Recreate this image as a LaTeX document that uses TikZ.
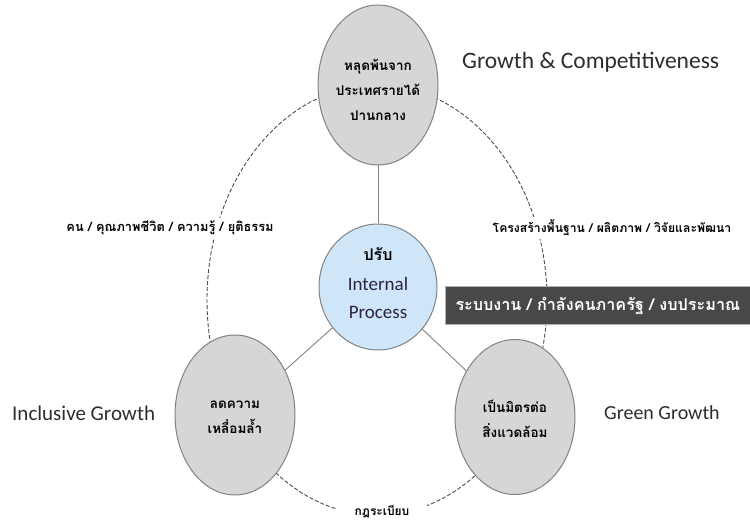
\documentclass[tikz,border=0pt]{standalone}
\usepackage{fontspec}
\setmainfont{Carlito}
\newfontfamily\thai[Script=Thai]{Loma}
\usetikzlibrary{shapes.geometric}
\definecolor{ellgray}{RGB}{214,214,214}
\definecolor{ellblue}{RGB}{207,230,248}
\definecolor{edge}{RGB}{130,130,130}
\definecolor{boxdark}{RGB}{72,72,72}
\definecolor{txt}{RGB}{45,45,45}
\definecolor{midtxt}{RGB}{45,35,65}
\tikzset{
 bubble/.style={ellipse, draw=edge, line width=1pt, fill=ellgray, inner sep=0pt,
   minimum width=120pt, minimum height=160pt},
 bubtext/.style={align=center, inner sep=0pt, font=\thai\bfseries\fontsize{13.5}{25}\selectfont},
 midword/.style={inner sep=0pt, text=midtxt, font=\fontsize{19}{22}\selectfont},
 link/.style={draw=edge, line width=0.9pt},
 ring/.style={draw=black!70, line width=0.9pt, dash pattern=on 4pt off 2pt},
 eng/.style={font=\fontsize{21}{24}\selectfont, text=txt, inner sep=0pt},
 thlabel/.style={font=\thai\bfseries\fontsize{12.8}{14}\selectfont, fill=white, inner sep=3pt},
}
\begin{document}
\begin{tikzpicture}[x=1pt,y=-1pt]
\useasboundingbox (0,0) rectangle (750,529);
\draw[ring] (377,300) ellipse [x radius=170pt, y radius=215pt];

\node[bubble] (top) at (378,85) {};
\node[bubble] (bl) at (235,415) {};
\node[bubble, minimum height=155pt] (br) at (515,417) {};
\node[bubble, fill=ellblue, minimum height=126pt, minimum width=118pt] (mid) at (378,287) {};

\node[bubtext] (toptext) at (378,90) {หลุดพ้นจาก\\ประเทศรายได้\\ปานกลาง};
\node[bubtext] (bltext) at (235,417) {ลดความ\\เหลื่อมล้ำ};
\node[bubtext] (brtext) at (515,419) {เป็นมิตรต่อ\\สิ่งแวดล้อม};
\node[bubtext, font=\thai\bfseries\fontsize{16}{20}\selectfont] (midth) at (378,254) {ปรับ};
\node[midword] (midin) at (378,284) {Internal};
\node[midword] (midpr) at (378,312) {Process};

\draw[link] (mid) -- (top);
\draw[link] (mid) -- (bl);
\draw[link] (mid) -- (br);

\node[eng, anchor=west, font=\fontsize{23.5}{26}\selectfont] (gc) at (462,62) {Growth \& Competitiveness};
\node[eng, anchor=west] (ig) at (12,413) {Inclusive Growth};
\node[eng, anchor=west, font=\fontsize{20}{24}\selectfont] (gg) at (604,413) {Green Growth};

\node[thlabel] (lt) at (170,228) {คน / คุณภาพชีวิต / ความรู้ / ยุติธรรม};
\node[thlabel, font=\thai\bfseries\fontsize{12.2}{14}\selectfont] (rt) at (612,228) {โครงสร้างพื้นฐาน / ผลิตภาพ / วิจัยและพัฒนา};
\node[thlabel, inner xsep=18pt, font=\thai\bfseries\fontsize{12}{14}\selectfont] (bt) at (382,512) {กฎระเบียบ};

\node[fill=boxdark, draw=gray!60, line width=1pt, anchor=west, minimum height=38pt,
  text width=290pt, inner xsep=10pt, align=left, text=white,
  font=\thai\bfseries\fontsize{16.2}{18}\selectfont] (bar) at (445,306)
  {ระบบงาน / กำลังคนภาครัฐ / งบประมาณ};
\end{tikzpicture}
\end{document}
